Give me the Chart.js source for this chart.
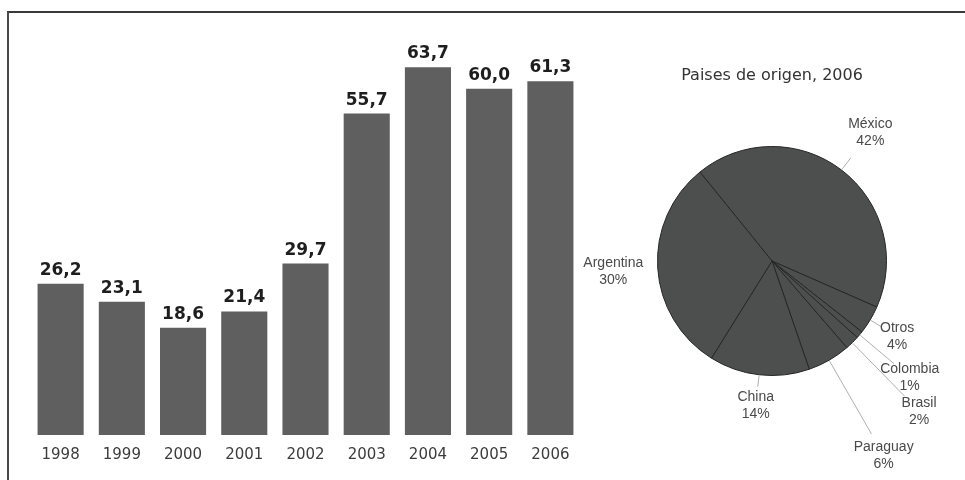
<!DOCTYPE html>
<html><head><meta charset="utf-8">
<script src="https://cdn.jsdelivr.net/npm/chart.js@4.4.0/dist/chart.umd.min.js"></script>
<style>
html,body{margin:0;padding:0;background:#fff;}
#wrap{position:relative;width:965px;height:480px;overflow:hidden;background:#fff;}
#frame{position:absolute;left:7px;top:11px;width:1000px;height:1000px;border-top:2px solid #3a3a3a;border-left:2px solid #4a4a4a;}
#barBox{position:absolute;left:0;top:0;width:600px;height:480px;}
#pieBox{position:absolute;left:560px;top:0;width:405px;height:480px;}
</style></head><body>
<div id="wrap"><div id="frame"></div>
<div id="barBox"><canvas id="bar"></canvas></div>
<div id="pieBox"><canvas id="pie"></canvas></div></div>
<script>
// ---- data ----
const years = ['1998','1999','2000','2001','2002','2003','2004','2005','2006'];
const values = [26.2, 23.1, 18.6, 21.4, 29.7, 55.7, 63.7, 60.0, 61.3];
const pieTitle = 'Paises de origen, 2006';
const countries = ['México','Otros','Colombia','Brasil','Paraguay','China','Argentina'];
const shares = [42, 4, 1, 2, 6, 14, 30];

// ---- plugins ----
const barLabels = {
  id: 'barLabels',
  afterDatasetsDraw(chart) {
    const ctx = chart.ctx;
    const meta = chart.getDatasetMeta(0);
    ctx.save();
    ctx.font = 'bold 17px "DejaVu Sans"';
    ctx.fillStyle = '#1e1e1e';
    ctx.textAlign = 'center';
    ctx.textBaseline = 'alphabetic';
    meta.data.forEach((bar, i) => {
      const txt = values[i].toFixed(1).replace('.', ',');
      ctx.fillText(txt, bar.x, bar.y - 9);
    });
    ctx.restore();
  }
};

const pieLabels = {
  id: 'pieLabels',
  afterDatasetsDraw(chart, args, opts) {
    const ctx = chart.ctx;
    const meta = chart.getDatasetMeta(0);
    ctx.save();
    ctx.font = '14px "Liberation Sans"';
    ctx.fillStyle = '#4a4a4a';
    ctx.textAlign = 'center';
    ctx.textBaseline = 'middle';
    meta.data.forEach((arc, i) => {
      const p = arc.getProps(['x','y','startAngle','endAngle','outerRadius'], true);
      const mid = (p.startAngle + p.endAngle) / 2;
      const c = Math.cos(mid), s = Math.sin(mid);
      const lead = opts.leaders[i];
      if (lead > 0) {
        ctx.strokeStyle = '#9a9a9a';
        ctx.lineWidth = 0.8;
        ctx.beginPath();
        ctx.moveTo(p.x + c * (p.outerRadius + 1), p.y + s * (p.outerRadius + 1));
        ctx.lineTo(p.x + c * (p.outerRadius + lead), p.y + s * (p.outerRadius + lead));
        ctx.stroke();
      }
      const d = opts.distances[i];
      const lx = p.x + c * d, ly = p.y + s * d;
      ctx.fillText(countries[i], lx, ly - 8);
      ctx.fillText(shares[i] + '%', lx, ly + 9);
    });
    ctx.restore();
  }
};

// ---- bar chart ----
new Chart(document.getElementById('bar'), {
  type: 'bar',
  data: {
    labels: years,
    datasets: [{
      data: values,
      backgroundColor: '#5f5f5f',
      borderWidth: 0,
      barPercentage: 0.753,
      categoryPercentage: 1
    }]
  },
  options: {
    responsive: true,
    maintainAspectRatio: false,
    animation: false,
    layout: { padding: { left: 30, right: 19, top: 31, bottom: 5 } },
    plugins: { legend: { display: false }, tooltip: { enabled: false } },
    scales: {
      x: {
        grid: { display: false, drawTicks: false },
        border: { display: false },
        ticks: { color: '#3c3c3c', font: { family: 'DejaVu Sans', size: 15 }, padding: 11, maxRotation: 0, autoSkip: false }
      },
      y: { display: false, min: 0, max: 70 }
    }
  },
  plugins: [barLabels]
});

// ---- pie chart ----
new Chart(document.getElementById('pie'), {
  type: 'pie',
  data: {
    labels: countries,
    datasets: [{
      data: shares,
      backgroundColor: '#4c4f4d',
      borderColor: '#262626',
      borderWidth: 1
    }]
  },
  options: {
    responsive: true,
    maintainAspectRatio: false,
    animation: false,
    rotation: -39,
    layout: { padding: { left: 97, right: 78, top: 0, bottom: 104 } },
    plugins: {
      legend: { display: false },
      tooltip: { enabled: false },
      title: {
        display: true,
        text: pieTitle,
        color: '#333',
        font: { family: 'DejaVu Sans', size: 16, weight: 'normal', lineHeight: 1.2 },
        padding: { top: 66, bottom: 60.8 }
      },
      pieLabels: {
        distances: [162, 146, 180, 210, 224, 145, 159],
        leaders: [15, 13, 45, 75, 85, 12, 0]
      }
    }
  },
  plugins: [pieLabels]
});
</script>
</body></html>
